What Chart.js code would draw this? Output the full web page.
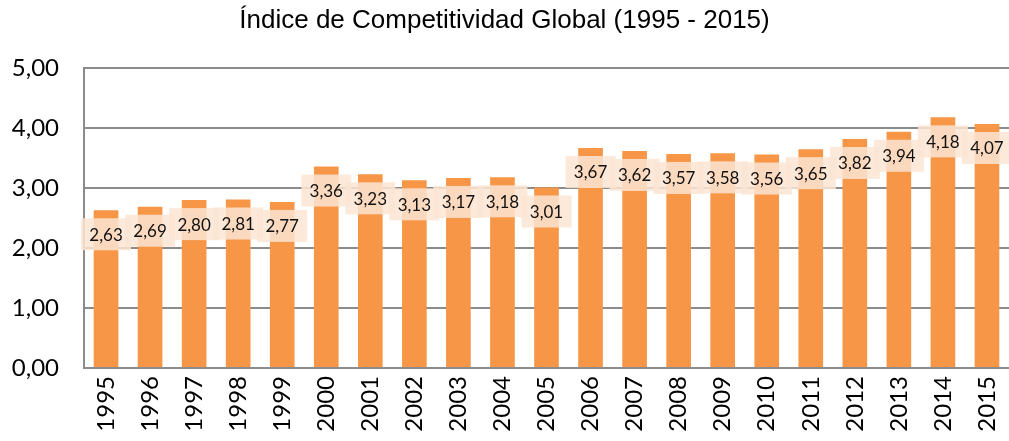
<!DOCTYPE html>
<html>
<head>
<meta charset="utf-8">
<script src="https://cdn.jsdelivr.net/npm/chart.js@4/dist/chart.umd.min.js"></script>
<style>
	html, body { margin: 0; padding: 0; background: #fff; }
	canvas { display: block; }
</style>
</head>
<body>
<canvas id="chartICG" width="1009" height="441"></canvas>
<script>
// Data
var years = ['1995', '1996', '1997', '1998', '1999', '2000', '2001', '2002', '2003', '2004', '2005',
	'2006', '2007', '2008', '2009', '2010', '2011', '2012', '2013', '2014', '2015'];
var indexValues = [2.63, 2.69, 2.80, 2.81, 2.77, 3.36, 3.23, 3.13, 3.17, 3.18, 3.01,
	3.67, 3.62, 3.57, 3.58, 3.56, 3.65, 3.82, 3.94, 4.18, 4.07];
var chartTitle = 'Índice de Competitividad Global (1995 - 2015)';

function formatComma(v) {
	return Number(v).toFixed(2).replace('.', ',');
}

// Data labels in light peach boxes, a bit below the top of each bar
var boxLabels = {
	id: 'boxLabels',
	afterDatasetsDraw: function (chart) {
		var ctx = chart.ctx;
		var meta = chart.getDatasetMeta(0);
		ctx.save();
		ctx.font = '17px Lato';
		ctx.textAlign = 'center';
		ctx.textBaseline = 'middle';
		meta.data.forEach(function (bar, i) {
			var cx = bar.x;
			var cy = bar.y + 24;
			ctx.fillStyle = 'rgba(252, 229, 212, 0.85)';
			ctx.fillRect(cx - 25, cy - 16, 50, 32);
			ctx.fillStyle = '#111';
			ctx.fillText(formatComma(indexValues[i]), cx, cy + 1);
		});
		ctx.restore();
	}
};

var gridGray = '#8c8c8c';

new Chart(document.getElementById('chartICG'), {
	type: 'bar',
	data: {
		labels: years,
		datasets: [{
			data: indexValues,
			backgroundColor: '#F79646',
			borderWidth: 0,
			barPercentage: 0.56,
			categoryPercentage: 1
		}]
	},
	options: {
		responsive: false,
		animation: false,
		layout: { padding: { left: 0, right: 0, top: 5, bottom: 0 } },
		plugins: {
			legend: { display: false },
			tooltip: { enabled: false },
			title: {
				display: true,
				text: chartTitle,
				color: '#000',
				font: { family: 'Liberation Sans', size: 26, weight: 'normal' },
				padding: { top: 0, bottom: 32 }
			}
		},
		scales: {
			y: {
				min: 0,
				max: 5,
				ticks: {
					stepSize: 1,
					color: '#000',
					padding: 25,
					font: { family: 'Lato', size: 24 },
					callback: function (v) { return formatComma(v); }
				},
				grid: { color: gridGray, lineWidth: 2, drawTicks: false },
				border: { color: gridGray, width: 2 },
				afterFit: function (scale) {
					scale.width = 84;
					scale.paddingTop = 0;
					scale.paddingBottom = 0;
				}
			},
			x: {
				ticks: {
					color: '#000',
					minRotation: 90,
					maxRotation: 90,
					autoSkip: false,
					padding: 8,
					font: { family: 'Lato', size: 24 }
				},
				grid: { display: false, drawTicks: false },
				border: { color: gridGray, width: 2 },
				afterFit: function (scale) {
					scale.height = 73;
					scale.paddingLeft = 0;
					scale.paddingRight = 0;
				}
			}
		}
	},
	plugins: [boxLabels]
});
</script>
</body>
</html>
